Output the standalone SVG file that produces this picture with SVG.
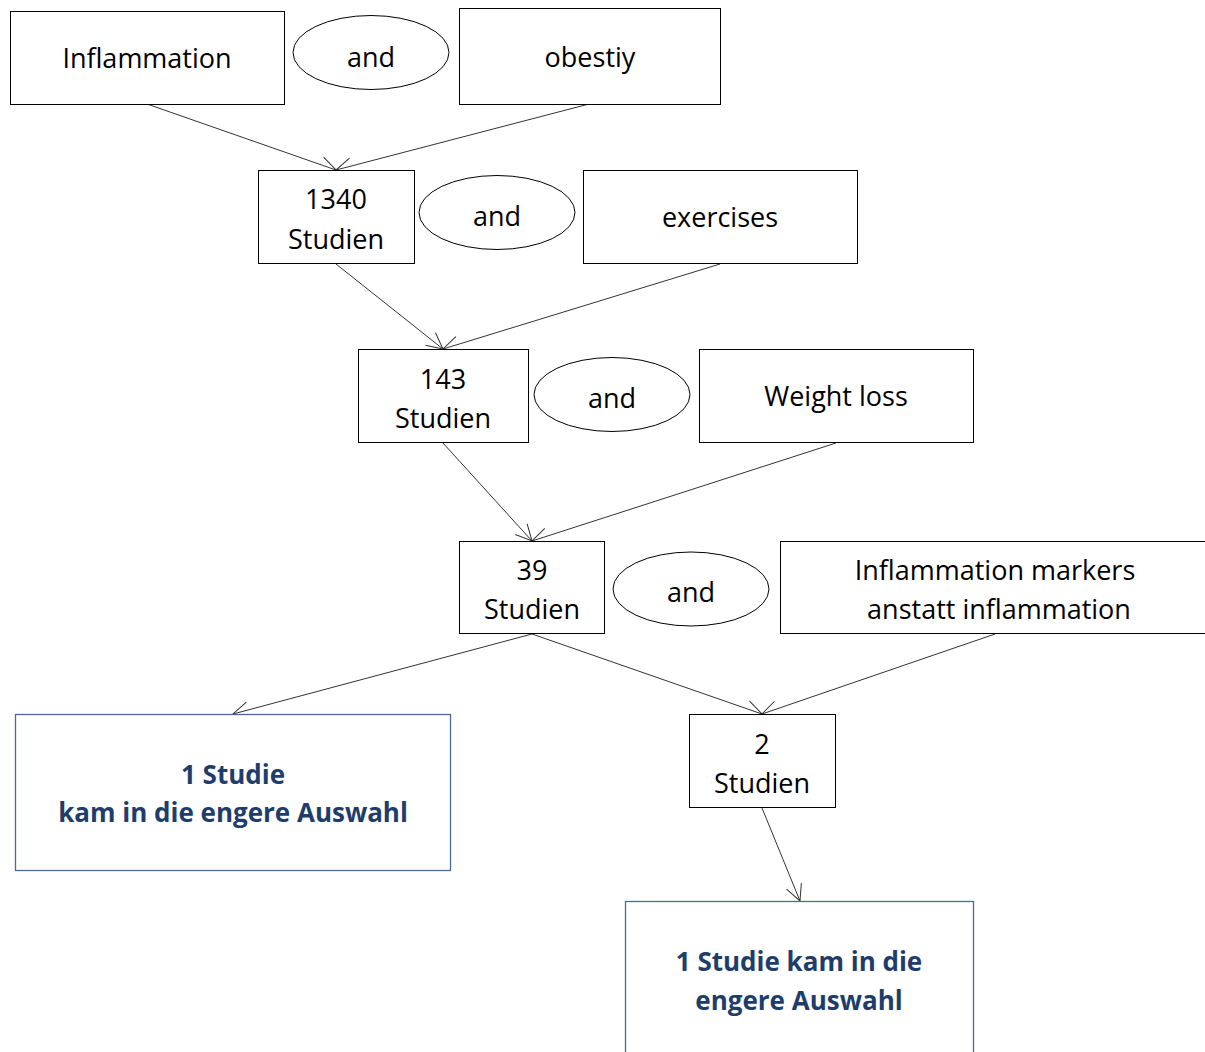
<svg xmlns="http://www.w3.org/2000/svg" width="1205" height="1052" viewBox="0 0 1205 1052">
<defs>
<marker id="arr" markerUnits="userSpaceOnUse" markerWidth="40" markerHeight="40" refX="20" refY="20" orient="auto" overflow="visible">
<path d="M4,12 L20,20 L4,28" fill="none" stroke="#333" stroke-width="1"/>
</marker>
</defs>
<style>
.box{fill:#fff;stroke:#000;stroke-width:1}
.res{fill:#fff;stroke:#4a6a9a;stroke-width:1.3}
.ell{fill:#fff;stroke:#000;stroke-width:1}
.t{font-family:"Open Sans","Liberation Sans",sans-serif;font-size:27px;fill:#000;text-anchor:middle}
.r{font-family:"Open Sans","Liberation Sans",sans-serif;font-size:26px;font-weight:bold;fill:#1f3d6b;text-anchor:middle}
.c{stroke:#333;stroke-width:1;fill:none;marker-end:url(#arr)}
</style>
<rect width="1205" height="1052" fill="#fff"/>
<g id="connectors">
<line class="c" x1="147" y1="104" x2="336" y2="170"/>
<line class="c" x1="589" y1="104" x2="336" y2="170"/>
<line class="c" x1="336" y1="264" x2="443" y2="349"/>
<line class="c" x1="720" y1="264" x2="443" y2="349"/>
<line class="c" x1="443" y1="443" x2="532" y2="541"/>
<line class="c" x1="836" y1="443" x2="532" y2="541"/>
<line class="c" x1="532" y1="634" x2="233" y2="714"/>
<line class="c" x1="532" y1="634" x2="762" y2="714"/>
<line class="c" x1="995" y1="634" x2="762" y2="714"/>
<line class="c" x1="762" y1="808" x2="800" y2="901"/>
</g>
<g id="inflammation"><rect class="box" x="10.5" y="11.5" width="274" height="93"/><text class="t" x="147" y="68">Inflammation</text></g>
<g id="and1"><ellipse class="ell" cx="371" cy="52.5" rx="78" ry="37"/><text class="t" x="371" y="67">and</text></g>
<g id="obestiy"><rect class="box" x="459.5" y="8.5" width="261" height="96"/><text class="t" x="590" y="67">obestiy</text></g>
<g id="s1340"><rect class="box" x="258.5" y="170.5" width="156" height="93"/><text class="t" x="336" y="209">1340</text><text class="t" x="336" y="249">Studien</text></g>
<g id="and2"><ellipse class="ell" cx="497" cy="212.5" rx="78" ry="37"/><text class="t" x="497" y="226">and</text></g>
<g id="exercises"><rect class="box" x="583.5" y="170.5" width="274" height="93"/><text class="t" x="720" y="227">exercises</text></g>
<g id="s143"><rect class="box" x="358.5" y="349.5" width="170" height="93"/><text class="t" x="443" y="389">143</text><text class="t" x="443" y="428">Studien</text></g>
<g id="and3"><ellipse class="ell" cx="612" cy="394.5" rx="78" ry="37"/><text class="t" x="612" y="408">and</text></g>
<g id="weightloss"><rect class="box" x="699.5" y="349.5" width="274" height="93"/><text class="t" x="836" y="406">Weight loss</text></g>
<g id="s39"><rect class="box" x="459.5" y="541.5" width="145" height="92"/><text class="t" x="532" y="580">39</text><text class="t" x="532" y="619">Studien</text></g>
<g id="and4"><ellipse class="ell" cx="691" cy="589" rx="78" ry="37"/><text class="t" x="691" y="602">and</text></g>
<g id="markers"><rect class="box" x="780.5" y="541.5" width="440" height="92"/><text class="t" x="995" y="580">Inflammation markers</text><text class="t" x="999" y="619">anstatt inflammation</text></g>
<g id="result1"><rect class="res" x="15.5" y="714.5" width="435" height="156"/><text class="r" x="233" y="784">1 Studie</text><text class="r" x="233" y="822">kam in die engere Auswahl</text></g>
<g id="s2"><rect class="box" x="689.5" y="714.5" width="146" height="93"/><text class="t" x="762" y="754">2</text><text class="t" x="762" y="793">Studien</text></g>
<g id="result2"><rect class="res" x="625.5" y="901.5" width="348" height="170"/><text class="r" x="799" y="971">1 Studie kam in die</text><text class="r" x="799" y="1010">engere Auswahl</text></g>
</svg>
